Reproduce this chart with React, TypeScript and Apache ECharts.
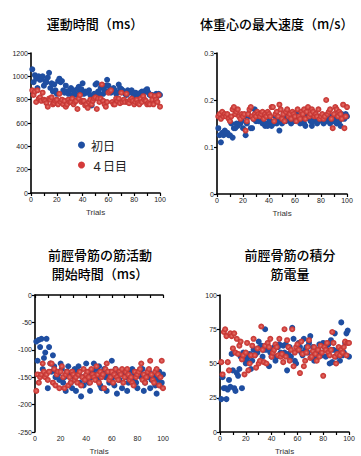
import React, { useEffect, useRef } from "react";
import * as echarts from "echarts";

const seriesNames = ["初日", "４日目"];
const titles = ["運動時間（ms）", "体重心の最大速度（m/s）", "前脛骨筋の筋活動\n開始時間（ms）", "前脛骨筋の積分\n筋電量"];
const xName = "Trials";

const p1Day1 = [
  1060, 950, 1010, 980, 900, 1000, 970, 980, 1000, 920,
  960, 950, 990, 1030, 900, 940, 870, 930, 880, 850,
  960, 980, 950, 960, 880, 860, 920, 870, 850, 880,
  900, 840, 880, 850, 840, 890, 910, 870, 890, 940,
  850, 870, 860, 870, 880, 840, 750, 830, 850, 930,
  940, 870, 850, 900, 920, 850, 880, 920, 970, 920,
  880, 860, 870, 900, 880, 850, 860, 930, 900, 890,
  880, 870, 850, 840, 880, 860, 870, 880, 850, 830,
  860, 850, 840, 850, 860, 870, 860, 870, 880, 890,
  860, 840, 840, 840, 810, 820, 850, 830, 850, 840,
];
const p1Day4 = [
  880, 840, 870, 780, 880, 810, 820, 790, 860, 800,
  790, 770, 740, 810, 800, 820, 760, 770, 790, 800,
  760, 850, 780, 800, 760, 790, 740, 760, 800, 780,
  780, 810, 760, 780, 790, 720, 810, 840, 780, 790,
  790, 750, 760, 730, 780, 800, 760, 790, 810, 820,
  720, 810, 780, 810, 930, 790, 760, 740, 780, 860,
  870, 880, 780, 760, 760, 810, 790, 810, 770, 860,
  780, 800, 780, 850, 780, 770, 800, 810, 790, 760,
  780, 800, 770, 760, 810, 780, 830, 800, 790, 760,
  770, 760, 840, 800, 760, 830, 800, 780, 840, 740,
];
const p2Day1 = [
  0.14, 0.125, 0.11, 0.13, 0.125, 0.135, 0.13, 0.13, 0.125, 0.125,
  0.15, 0.12, 0.14, 0.14, 0.15, 0.145, 0.15, 0.15, 0.155, 0.14,
  0.165, 0.125, 0.15, 0.17, 0.165, 0.14, 0.14, 0.16, 0.18, 0.155,
  0.16, 0.155, 0.165, 0.16, 0.15, 0.15, 0.145, 0.15, 0.145, 0.16,
  0.155, 0.145, 0.15, 0.15, 0.165, 0.15, 0.155, 0.135, 0.155, 0.15,
  0.165, 0.16, 0.155, 0.17, 0.16, 0.155, 0.15, 0.165, 0.155, 0.16,
  0.17, 0.16, 0.165, 0.15, 0.155, 0.16, 0.15, 0.145, 0.17, 0.165,
  0.16, 0.155, 0.145, 0.155, 0.17, 0.16, 0.15, 0.155, 0.16, 0.165,
  0.155, 0.15, 0.16, 0.155, 0.165, 0.16, 0.15, 0.165, 0.16, 0.155,
  0.165, 0.15, 0.16, 0.155, 0.145, 0.17, 0.165, 0.16, 0.17, 0.165,
];
const p2Day4 = [
  0.165, 0.17, 0.16, 0.175, 0.165, 0.17, 0.165, 0.17, 0.16, 0.155,
  0.165, 0.18, 0.185, 0.17, 0.175, 0.18, 0.165, 0.16, 0.17, 0.165,
  0.17, 0.135, 0.155, 0.17, 0.18, 0.185, 0.165, 0.16, 0.17, 0.165,
  0.175, 0.17, 0.165, 0.17, 0.175, 0.16, 0.17, 0.165, 0.175, 0.17,
  0.165, 0.185, 0.185, 0.155, 0.17, 0.175, 0.165, 0.19, 0.18, 0.16,
  0.17, 0.155, 0.175, 0.18, 0.165, 0.17, 0.16, 0.175, 0.17, 0.165,
  0.155, 0.18, 0.165, 0.16, 0.175, 0.17, 0.18, 0.16, 0.175, 0.185,
  0.165, 0.17, 0.18, 0.175, 0.165, 0.17, 0.165, 0.18, 0.16, 0.165,
  0.17, 0.16, 0.165, 0.2, 0.17, 0.175, 0.18, 0.16, 0.14, 0.17,
  0.185, 0.18, 0.165, 0.175, 0.17, 0.16, 0.19, 0.14, 0.165, 0.185,
];
const p3Day1 = [
  -85, -120, -82, -95, -80, -135, -115, -105, -80, -170,
  -95, -125, -140, -110, -130, -150, -140, -145, -155, -125,
  -135, -160, -150, -175, -140, -130, -145, -160, -170, -150,
  -135, -175, -140, -130, -160, -185, -150, -165, -155, -125,
  -145, -160, -175, -150, -140, -125, -145, -135, -155, -130,
  -165, -170, -140, -135, -150, -175, -145, -160, -140, -120,
  -150, -165, -135, -180, -145, -155, -140, -170, -140, -145,
  -150, -175, -160, -140, -150, -135, -155, -145, -160, -170,
  -145, -140, -150, -135, -175, -160, -145, -150, -140, -170,
  -155, -145, -150, -165, -180, -155, -140, -165, -160, -145,
];
const p3Day4 = [
  -175, -145, -160, -150, -145, -125, -140, -150, -145, -155,
  -140, -125, -125, -160, -135, -165, -145, -140, -170, -140,
  -130, -150, -170, -145, -140, -165, -150, -160, -140, -145,
  -155, -150, -160, -145, -140, -165, -150, -135, -155, -145,
  -140, -150, -160, -135, -145, -150, -155, -130, -145, -160,
  -140, -150, -145, -170, -135, -125, -140, -155, -150, -140,
  -160, -145, -135, -150, -155, -140, -145, -135, -160, -150,
  -140, -135, -145, -155, -150, -160, -165, -140, -150, -145,
  -140, -135, -125, -155, -145, -160, -150, -140, -135, -120,
  -145, -155, -160, -140, -135, -145, -165, -150, -120, -170,
];
const p4Day1 = [
  24, 40, 32, 32, 24, 31, 38, 33, 57, 45,
  32, 30, 43, 41, 46, 55, 32, 58, 53, 50,
  52, 55, 57, 46, 52, 60, 56, 60, 58, 66,
  62, 63, 55, 60, 75, 60, 62, 48, 58, 55,
  60, 62, 52, 55, 62, 64, 58, 56, 63, 58,
  64, 45, 57, 62, 55, 76, 68, 52, 50, 60,
  65, 62, 58, 56, 68, 60, 62, 58, 65, 70,
  55, 62, 52, 55, 57, 60, 64, 58, 56, 65,
  62, 55, 60, 64, 50, 67, 51, 60, 72, 55,
  58, 60, 52, 80, 56, 58, 65, 72, 74, 55,
];
const p4Day4 = [
  51, 42, 73, 75, 70, 51, 45, 72, 70, 61,
  72, 58, 68, 57, 63, 66, 53, 56, 42, 58,
  65, 45, 50, 56, 63, 68, 56, 47, 61, 50,
  52, 77, 60, 51, 63, 50, 65, 62, 68, 55,
  58, 60, 64, 62, 56, 68, 55, 57, 51, 75,
  55, 67, 62, 52, 60, 75, 48, 58, 62, 64,
  60, 43, 66, 57, 48, 52, 58, 62, 67, 54,
  55, 59, 62, 57, 52, 60, 55, 63, 58, 41,
  62, 60, 65, 58, 56, 60, 73, 65, 55, 50,
  57, 62, 56, 60, 58, 62, 66, 56, 65, 65,
];

const yMins = [0, 0, -250, 0];
const yMaxs = [1200, 0.3, 0, 100];
const yIntervals = [200, 0.1, 50, 25];

const BLUE = "#1f4ea1";

const toPts = (arr: number[]) => arr.map((v, i) => [i + 1, v]);

export default function App() {
  const ref = useRef<HTMLDivElement>(null);
  useEffect(() => {
    document.body.style.margin = "0";
    if (!ref.current) return;
    const chart = echarts.init(ref.current, null, { renderer: "svg" });
    const grids = [
      { left: 31, top: 53, width: 129, height: 140 },
      { left: 217, top: 53, width: 130, height: 141 },
      { left: 35, top: 295, width: 128, height: 142 },
      { left: 220, top: 295, width: 129, height: 142 },
    ];
    const axisCommon = {
      axisLine: { show: true, lineStyle: { color: "#000", width: 1.6 } },
      axisTick: { show: true, inside: false, length: 3, lineStyle: { color: "#000", width: 1.2 } },
      splitLine: { show: false },
      axisLabel: { color: "#222", fontSize: 7, fontFamily: "Liberation Sans, Arial, sans-serif", margin: 3 },
    };
    const xAxes = grids.map((_, i) => ({
      type: "value",
      gridIndex: i,
      min: 0,
      max: 100,
      interval: 10,
      name: xName,
      nameLocation: "middle",
      nameGap: 15,
      nameTextStyle: { color: "#333", fontSize: 8, fontFamily: "Liberation Sans, Arial, sans-serif" },
      ...axisCommon,
      axisLabel: {
        ...axisCommon.axisLabel,
        formatter: (v: number) => (v % 20 === 0 ? String(v) : ""),
      },
    }));
    const yAxes = grids.map((_, i) => ({
      type: "value",
      gridIndex: i,
      min: yMins[i],
      max: yMaxs[i],
      interval: yIntervals[i],
      ...axisCommon,
      axisLabel: {
        ...axisCommon.axisLabel,
        formatter: (v: number) => (i === 1 ? (v === 0 ? "0" : v.toFixed(1)) : String(v)),
      },
    }));
    const day1 = [p1Day1, p2Day1, p3Day1, p4Day1];
    const day4 = [p1Day4, p2Day4, p3Day4, p4Day4];
    const redFill = new echarts.graphic.RadialGradient(0.5, 0.5, 0.5, [
      { offset: 0, color: "#e87a72" },
      { offset: 0.45, color: "#d54a45" },
      { offset: 1, color: "#c0302e" },
    ]);
    const series: any[] = [];
    for (let i = 0; i < 4; i++) {
      series.push({
        type: "scatter",
        name: seriesNames[0],
        xAxisIndex: i,
        yAxisIndex: i,
        data: toPts(day1[i]),
        symbolSize: 6,
        itemStyle: { color: BLUE, opacity: 1 },
      });
    }
    for (let i = 0; i < 4; i++) {
      series.push({
        type: "scatter",
        name: seriesNames[1],
        xAxisIndex: i,
        yAxisIndex: i,
        data: toPts(day4[i]),
        symbolSize: 6,
        itemStyle: { color: redFill, opacity: 1 },
      });
    }
    const titleFont = { fontSize: 13, color: "#000", fontWeight: 500, fontFamily: "Noto Sans CJK JP", lineHeight: 19 };
    chart.setOption({
      animation: false,
      backgroundColor: "#fff",
      title: [
        { text: titles[0], left: 90, top: 9, textAlign: "center", textStyle: titleFont },
        { text: titles[1], left: 195, top: 9, textStyle: titleFont },
        { text: titles[2], left: 95, top: 240, textAlign: "center", textStyle: titleFont },
        { text: titles[3], left: 285, top: 240, textAlign: "center", textStyle: titleFont },
      ],
      legend: {
        data: [
          { name: seriesNames[0], itemStyle: { color: BLUE } },
          { name: seriesNames[1], itemStyle: { color: "#d43a3a" } },
        ],
        orient: "vertical",
        left: 73,
        top: 134,
        itemWidth: 7,
        itemHeight: 7,
        itemGap: 8,
        icon: "circle",
        textStyle: { fontSize: 12, color: "#222", fontFamily: "Noto Sans CJK JP", padding: [0, 0, 0, 1] },
      },
      grid: grids,
      xAxis: xAxes,
      yAxis: yAxes,
      series,
    });
    return () => chart.dispose();
  }, []);
  return <div ref={ref} style={{ position: "absolute", left: 0, top: 0, width: 361, height: 456 }} />;
}
